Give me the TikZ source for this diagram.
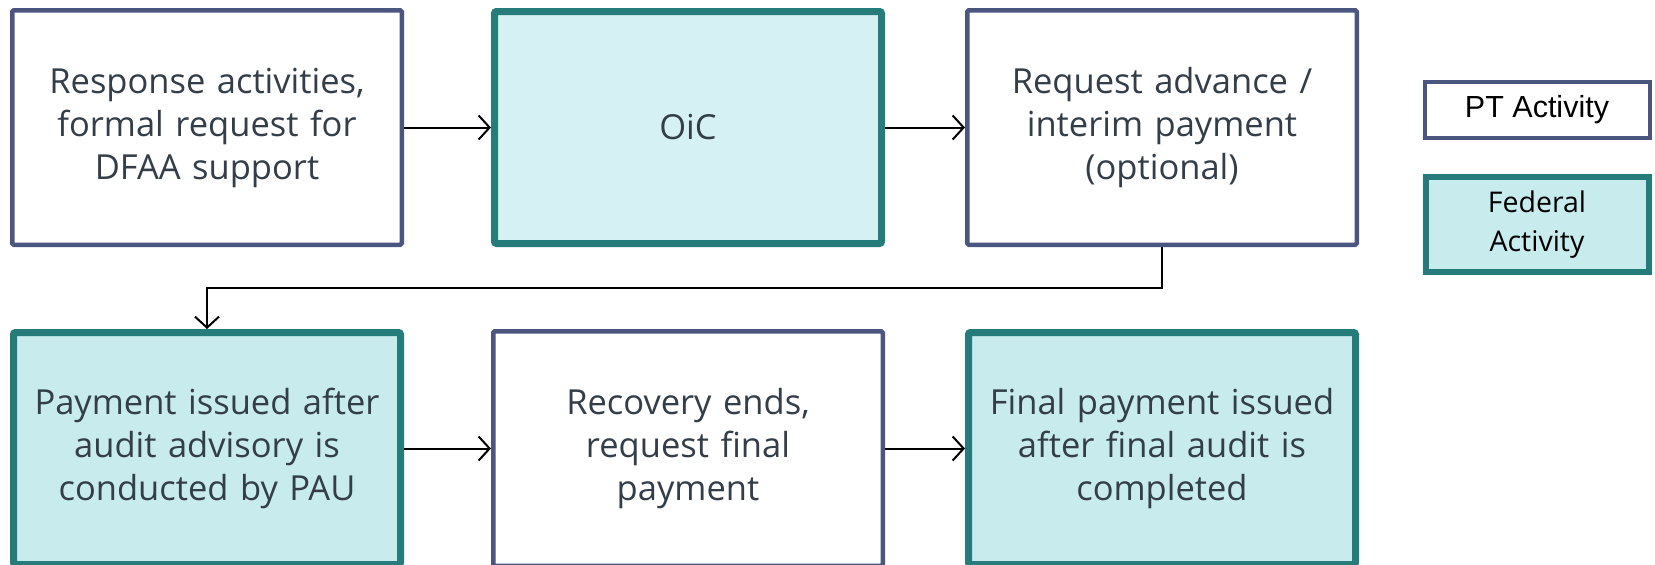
\documentclass[tikz,border=0pt]{standalone}
\usepackage{fontspec}
\setmainfont{Open Sans}
\newfontfamily\legendfont{Liberation Sans}
\usetikzlibrary{arrows.meta}
\definecolor{ptborder}{HTML}{4A5580}
\definecolor{fedborder}{HTML}{267B7B}
\definecolor{fedfill}{HTML}{C8EBED}
\definecolor{oicfill}{HTML}{D5F1F3}
\definecolor{txt}{HTML}{333E48}
\tikzset{
  ptbox/.style={draw=ptborder, line width=4.5pt, fill=white, rounded corners=1.5pt,
    minimum width=389.5pt, minimum height=234.5pt, text width=375pt, align=center,
    text=txt, font=\fontsize{34.5}{43}\selectfont},
  fedbox/.style={draw=fedborder, line width=7pt, fill=fedfill, rounded corners=2pt,
    minimum width=387pt, minimum height=232pt, text width=375pt, align=center,
    text=txt, font=\fontsize{34.5}{43}\selectfont},
  conn/.style={draw=black, line width=2pt, -{Straight Barb[length=11pt,width=24pt,line width=2pt]}},
  legpt/.style={draw=ptborder, line width=4pt, fill=white, minimum width=225pt, minimum height=56pt,
    align=center, text=black, font=\legendfont\fontsize{30.5}{36}\selectfont},
  legfed/.style={draw=fedborder, line width=6pt, fill=fedfill, minimum width=223pt, minimum height=95pt,
    align=center, text=black, font=\fontsize{28.5}{39}\selectfont}
}
\begin{document}
\begin{tikzpicture}[x=1pt,y=-1pt]
\useasboundingbox (0,0) rectangle (1655,565);
\node[ptbox] (b1) at (207,127.5) {Response activities,\\formal request for\\DFAA support};
\node[fedbox, fill=oicfill] (b2) at (688,127.5) {OiC};
\node[ptbox] (b3) at (1162,127.5) {Request advance /\\interim payment\\(optional)};
\node[fedbox] (b4) at (207,448.5) {Payment issued after\\audit advisory is\\conducted by PAU};
\node[ptbox] (b5) at (688,448.5) {Recovery ends,\\request final\\payment};
\node[fedbox] (b6) at (1162,448.5) {Final payment issued\\after final audit is\\completed};
\node[legpt] (l1) at (1537,110) {PT Activity};
\node[legfed] (l2) at (1537,224.5) {Federal\\Activity};
\draw[conn] (b1.east) -- (b2.west);
\draw[conn] (b2.east) -- (b3.west);
\draw[conn] (b3.south) -- ++(0,41) -| (b4.north);
\draw[conn] (b4.east) -- (b5.west);
\draw[conn] (b5.east) -- (b6.west);
\end{tikzpicture}
\end{document}
